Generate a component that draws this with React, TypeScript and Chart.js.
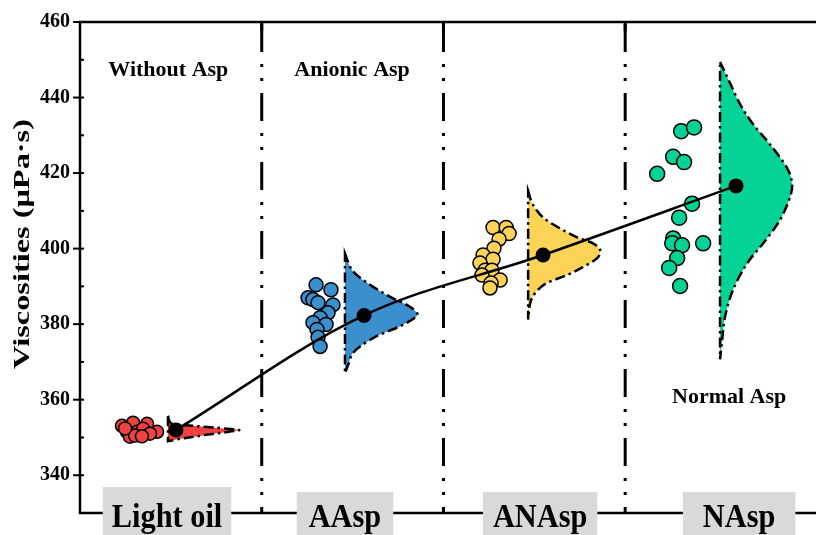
import React, { useEffect, useRef } from 'react';
import { Chart, registerables } from 'chart.js';

Chart.register(...registerables);

// ---------- data ----------
const categories = ['Light oil', 'AAsp', 'ANAsp', 'NAsp'];
const groupNotes = ['Without Asp', 'Anionic Asp', 'Normal Asp'];
const yTickValues = [340, 360, 380, 400, 420, 440, 460];
const yMinorValues = [350, 370, 390, 410, 430, 450];

const lightOilValues = [353.1, 353.9, 353.6, 351.5, 351.5, 351.6, 352.3, 350.2, 350.5, 351.0, 350.3, 352.4];
const lightOilJitter = [0.231, 0.292, 0.369, 0.424, 0.259, 0.319, 0.347, 0.275, 0.303, 0.385, 0.341, 0.248];

const aaspValues = [390.4, 389.1, 387.0, 386.5, 385.7, 385.1, 383.0, 381.7, 380.4, 379.9, 378.6, 376.5, 374.1];
const aaspJitter = [0.299, 0.381, 0.255, 0.282, 0.31, 0.392, 0.365, 0.321, 0.282, 0.354, 0.304, 0.31, 0.321];

const anaspValues = [405.6, 405.6, 404.0, 402.5, 400.1, 398.3, 397.2, 396.2, 394.3, 394.3, 393.0, 391.7, 390.9, 389.6];
const anaspJitter = [0.273, 0.345, 0.361, 0.306, 0.278, 0.218, 0.273, 0.201, 0.229, 0.267, 0.212, 0.312, 0.262, 0.256];

const naspValues = [431.1, 432.1, 424.3, 422.9, 419.8, 411.9, 408.2, 402.7, 401.4, 400.9, 401.4, 397.5, 394.9, 390.1];
const naspJitter = [0.308, 0.379, 0.264, 0.324, 0.176, 0.368, 0.297, 0.264, 0.259, 0.313, 0.429, 0.286, 0.242, 0.302];

const meanValues = [352.0, 382.3, 398.3, 416.6];

// half-violin density outlines (value level, relative width)
const lightOilViolinY = [355.7, 353.6, 353.1, 352.6, 352.1, 351.8, 351.3, 350.8, 350.2, 349.7, 349.0];
const lightOilViolinW = [0, 0.06, 0.34, 0.65, 0.96, 0.96, 0.77, 0.56, 0.37, 0.19, 0];
const aaspViolinY = [398.8, 394.3, 390.9, 387.2, 385.1, 383.0, 381.7, 379.4, 376.8, 374.1, 372.0, 369.5, 367.0];
const aaspViolinW = [0, 0.1, 0.31, 0.63, 0.86, 1.0, 0.97, 0.76, 0.44, 0.21, 0.1, 0.05, 0];
const anaspViolinY = [415.3, 411.9, 408.2, 405.4, 403.0, 401.4, 399.6, 397.5, 395.1, 393.0, 390.9, 388.3, 385.7, 381.2];
const anaspViolinW = [0, 0.06, 0.21, 0.44, 0.68, 0.9, 1.0, 0.96, 0.76, 0.54, 0.26, 0.1, 0.03, 0];
const naspViolinY = [449.4, 445.0, 438.2, 432.9, 427.7, 421.4, 417.2, 413.5, 407.5, 401.4, 396.2, 389.1, 382.0, 376.0, 370.7];
const naspViolinW = [0, 0.11, 0.28, 0.46, 0.69, 0.93, 1.0, 0.97, 0.83, 0.6, 0.38, 0.18, 0.07, 0.03, 0];

// ---------- layout / style ----------
const W = 816;
const H = 535;
const FONT = '"Liberation Serif", "Times New Roman", serif';
const colors = ['#ef4242', '#3b8fcc', '#fbd457', '#05d396'];
const violinBase = [0.484, 0.458, 0.466, 0.522];
const meanOffset = [0.528, 0.563, 0.548, 0.61];
const VIOLIN_WIDTH = 0.396;
const labelCenter = [0.479, 1.458, 2.532, 3.627];
const boxTop = [487, 492, 492, 492];
const boxPad = [9, 12, 10, 20];
const notePos = [
  { x: 0.486, y: 447.3 },
  { x: 1.497, y: 447.3 },
  { x: 3.572, y: 360.7 },
];

const groups = [
  { values: lightOilValues, jitter: lightOilJitter, vy: lightOilViolinY, vw: lightOilViolinW, r: 6.5 },
  { values: aaspValues, jitter: aaspJitter, vy: aaspViolinY, vw: aaspViolinW, r: 7 },
  { values: anaspValues, jitter: anaspJitter, vy: anaspViolinY, vw: anaspViolinW, r: 7 },
  { values: naspValues, jitter: naspJitter, vy: naspViolinY, vw: naspViolinW, r: 7.5 },
];

function smoothPath(ctx: CanvasRenderingContext2D, pts: { x: number; y: number }[]) {
  ctx.moveTo(pts[0].x, pts[0].y);
  for (let i = 0; i < pts.length - 1; i++) {
    const p0 = pts[Math.max(0, i - 1)];
    const p1 = pts[i];
    const p2 = pts[i + 1];
    const p3 = pts[Math.min(pts.length - 1, i + 2)];
    ctx.bezierCurveTo(
      p1.x + (p2.x - p0.x) / 6,
      p1.y + (p2.y - p0.y) / 6,
      p2.x - (p3.x - p1.x) / 6,
      p2.y - (p3.y - p1.y) / 6,
      p2.x,
      p2.y
    );
  }
}

const overlay = {
  id: 'overlay',
  beforeDatasetsDraw(chart: any) {
    const { ctx, chartArea: a, scales } = chart;
    const x = scales.x;
    const y = scales.y;
    ctx.save();
    ctx.strokeStyle = '#000';
    ctx.lineWidth = 3;
    ctx.lineCap = 'butt';
    ctx.setLineDash([28, 12, 3, 11, 3, 12]);
    ctx.lineDashOffset = -2;
    for (let s = 1; s < categories.length; s++) {
      const px = x.getPixelForValue(s);
      ctx.beginPath();
      ctx.moveTo(px, a.top);
      ctx.lineTo(px, a.bottom);
      ctx.stroke();
    }
    groups.forEach((g, i) => {
      const base = i + violinBase[i];
      const bx = x.getPixelForValue(base);
      const pts = g.vy.map((v, k) => ({
        x: x.getPixelForValue(base + g.vw[k] * VIOLIN_WIDTH),
        y: y.getPixelForValue(v),
      }));
      ctx.beginPath();
      smoothPath(ctx, pts);
      ctx.lineTo(bx, pts[0].y);
      ctx.closePath();
      ctx.fillStyle = colors[i];
      ctx.fill();
      ctx.setLineDash([10, 4, 2.5, 4]);
      ctx.lineDashOffset = 0;
      ctx.lineWidth = 2.5;
      ctx.strokeStyle = '#000';
      ctx.stroke();
    });
    ctx.restore();
  },
  afterDraw(chart: any) {
    const { ctx, chartArea: a, scales } = chart;
    const x = scales.x;
    const y = scales.y;
    ctx.save();
    ctx.strokeStyle = '#000';
    ctx.setLineDash([]);
    ctx.lineWidth = 2.5;
    ctx.lineCap = 'square';
    ctx.beginPath();
    ctx.moveTo(a.right + 4, a.top);
    ctx.lineTo(a.left, a.top);
    ctx.lineTo(a.left, a.bottom);
    ctx.lineTo(a.right + 4, a.bottom);
    ctx.stroke();
    ctx.lineCap = 'butt';
    ctx.lineWidth = 2;
    yTickValues.forEach((v) => {
      const py = y.getPixelForValue(v);
      ctx.beginPath();
      ctx.moveTo(a.left - 7, py);
      ctx.lineTo(a.left + 4, py);
      ctx.stroke();
    });
    yMinorValues.forEach((v) => {
      const py = y.getPixelForValue(v);
      ctx.beginPath();
      ctx.moveTo(a.left, py);
      ctx.lineTo(a.left + 4, py);
      ctx.stroke();
    });
    ctx.lineWidth = 3;
    for (let s = 1; s < categories.length; s++) {
      const px = x.getPixelForValue(s);
      ctx.beginPath();
      ctx.moveTo(px, a.top);
      ctx.lineTo(px, a.top + 9);
      ctx.stroke();
    }
    // notes
    ctx.fillStyle = '#000';
    ctx.font = `bold 22px ${FONT}`;
    ctx.textAlign = 'center';
    ctx.textBaseline = 'middle';
    groupNotes.forEach((t, i) => {
      ctx.fillText(t, x.getPixelForValue(notePos[i].x), y.getPixelForValue(notePos[i].y));
    });
    // y title (stretched along its direction like the reference)
    ctx.save();
    ctx.translate(23, 244);
    ctx.rotate(-Math.PI / 2);
    ctx.font = `bold 23px ${FONT}`;
    const title = 'Viscosities (μPa·s)';
    const tw = ctx.measureText(title).width;
    ctx.scale(250 / tw, 1);
    ctx.fillText(title, 0, 0);
    ctx.restore();
    // category boxes
    ctx.font = `bold 33px ${FONT}`;
    ctx.textBaseline = 'alphabetic';
    const sx = 0.92;
    categories.forEach((c, i) => {
      const cx = x.getPixelForValue(labelCenter[i]);
      const w = ctx.measureText(c).width * sx;
      ctx.fillStyle = '#d9d9d9';
      ctx.fillRect(cx - w / 2 - boxPad[i], boxTop[i], w + 2 * boxPad[i], H - boxTop[i]);
      ctx.fillStyle = '#000';
      ctx.save();
      ctx.translate(cx, 527);
      ctx.scale(sx, 1);
      ctx.fillText(c, 0, 0);
      ctx.restore();
    });
    ctx.restore();
  },
};

export default function App() {
  const ref = useRef<HTMLCanvasElement>(null);
  useEffect(() => {
    document.body.style.margin = '0';
    document.body.style.overflow = 'hidden';
    const canvas = ref.current as HTMLCanvasElement;
    canvas.width = W;
    canvas.height = H;
    const scatterSets = groups.map((g, i) => ({
      type: 'scatter' as const,
      data: g.values.map((v, k) => ({ x: i + g.jitter[k], y: v })),
      backgroundColor: colors[i],
      borderColor: '#000',
      borderWidth: 1.5,
      pointRadius: g.r,
      clip: false,
      order: 2,
    }));
    const meanSet = {
      type: 'line' as const,
      data: meanValues.map((v, i) => ({ x: i + meanOffset[i], y: v })),
      borderColor: '#000',
      borderWidth: 2.5,
      tension: 0.35,
      pointRadius: 7.5,
      pointBackgroundColor: '#000',
      pointBorderColor: '#000',
      pointBorderWidth: 0,
      fill: false,
      clip: false,
      order: 0,
    };
    const chart = new Chart(canvas, {
      type: 'scatter',
      data: { datasets: [...scatterSets, meanSet] as any },
      options: {
        animation: false,
        responsive: false,
        maintainAspectRatio: false,
        devicePixelRatio: 1,
        events: [],
        layout: { autoPadding: false, padding: { top: 20, bottom: 20, left: 0, right: 0 } },
        plugins: { legend: { display: false }, tooltip: { enabled: false } },
        scales: {
          x: { type: 'linear', display: false, min: 0, max: 4.05 },
          y: {
            type: 'linear',
            min: 330,
            max: 460,
            afterFit: (s: any) => { s.width = 80; },
            afterBuildTicks: (s: any) => { s.ticks = yTickValues.map((v) => ({ value: v })); },
            grid: { display: false, drawTicks: false },
            border: { display: false },
            ticks: {
              padding: 10,
              color: '#000',
              font: { family: FONT, size: 20, weight: 'bold' },
            },
          },
        },
      },
      plugins: [overlay],
    });
    return () => chart.destroy();
  }, []);
  return (
    <div style={{ position: 'fixed', left: 0, top: 0, width: W, height: H, overflow: 'hidden' }}>
      <canvas ref={ref} width={W} height={H} style={{ display: 'block', width: W, height: H }} />
    </div>
  );
}
